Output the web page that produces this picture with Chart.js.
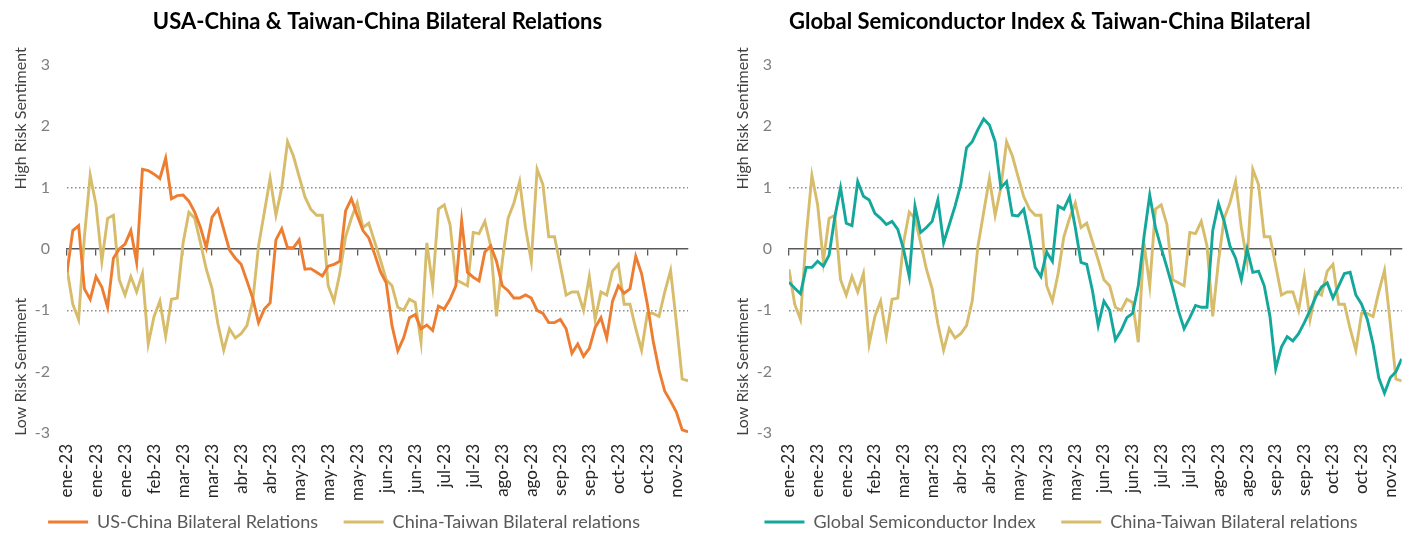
<!DOCTYPE html>
<html><head><meta charset="utf-8">
<script src="https://cdn.jsdelivr.net/npm/chart.js@4.4.0/dist/chart.umd.min.js"></script>
<style>
html,body{margin:0;padding:0;background:#fff;}
#wrap{position:relative;width:1422px;height:536px;overflow:hidden;}
.c{position:absolute;top:0;width:711px;height:536px;}
#l{left:0;} #r{left:711px;}
canvas{display:block;}
</style></head><body>
<div id="wrap"><div class="c" id="l"><canvas id="c1" width="711" height="536"></canvas></div><div class="c" id="r"><canvas id="c2" width="711" height="536"></canvas></div></div>
<script>
const tickLabels = ['ene-23','ene-23','ene-23','feb-23','mar-23','mar-23','abr-23','abr-23','may-23','may-23','may-23','jun-23','jun-23','jul-23','jul-23','ago-23','ago-23','sep-23','sep-23','oct-23','oct-23','nov-23'];
// one value every 0.2 of a tick interval
const step = 0.2;
const usChina = [
 -0.38, 0.30, 0.38, -0.65, -0.82, -0.45, -0.62, -0.95, -0.15, 0.00,
 0.08, 0.30, -0.22, 1.30, 1.28, 1.22, 1.15, 1.48, 0.82, 0.87,
 0.88, 0.78, 0.60, 0.35, 0.02, 0.52, 0.65, 0.32, -0.02, -0.15,
 -0.25, -0.52, -0.80, -1.20, -0.98, -0.88, 0.15, 0.33, 0.02, 0.02,
 0.15, -0.33, -0.32, -0.38, -0.44, -0.28, -0.25, -0.20, 0.62, 0.82,
 0.55, 0.30, 0.18, -0.08, -0.37, -0.55, -1.25, -1.66, -1.45, -1.12,
 -1.07, -1.30, -1.24, -1.33, -0.93, -0.98, -0.82, -0.60, 0.46, -0.38,
 -0.46, -0.52, -0.05, 0.05, -0.20, -0.60, -0.68, -0.80, -0.80, -0.75,
 -0.80, -1.00, -1.05, -1.20, -1.20, -1.15, -1.30, -1.70, -1.55, -1.75,
 -1.62, -1.28, -1.12, -1.45, -0.85, -0.60, -0.72, -0.65, -0.12, -0.40,
 -0.90, -1.50, -1.97, -2.32, -2.48, -2.66, -2.95, -2.98
];
const chinaTaiwan = [
 -0.33, -0.90, -1.15, 0.20, 1.20, 0.72, -0.20, 0.50, 0.55, -0.50,
 -0.75, -0.45, -0.70, -0.40, -1.55, -1.10, -0.85, -1.42, -0.82, -0.80,
 0.10, 0.60, 0.50, 0.10, -0.33, -0.65, -1.22, -1.65, -1.30, -1.45,
 -1.38, -1.25, -0.85, 0.05, 0.60, 1.15, 0.55, 1.00, 1.75, 1.52,
 1.18, 0.85, 0.65, 0.55, 0.55, -0.60, -0.85, -0.40, 0.20, 0.50,
 0.75, 0.35, 0.42, 0.12, -0.18, -0.50, -0.60, -0.95, -1.00, -0.82,
 -0.87, -1.52, 0.10, -0.60, 0.65, 0.72, 0.40, -0.50, -0.55, -0.60,
 0.27, 0.25, 0.45, 0.05, -1.10, -0.20, 0.50, 0.75, 1.10, 0.35,
 -0.20, 1.30, 1.05, 0.20, 0.20, -0.27, -0.75, -0.70, -0.70, -1.00,
 -0.45, -1.15, -0.70, -0.75, -0.36, -0.25, -0.90, -0.90, -1.30, -1.65,
 -1.05, -1.05, -1.10, -0.70, -0.35, -1.20, -2.12, -2.15
];
const semiIndex = [
 -0.54, -0.64, -0.73, -0.30, -0.30, -0.20, -0.28, -0.10, 0.52, 1.00,
 0.42, 0.38, 1.10, 0.86, 0.80, 0.58, 0.50, 0.40, 0.45, 0.32,
 0.00, -0.45, 0.70, 0.27, 0.35, 0.45, 0.80, 0.10, 0.40, 0.70,
 1.05, 1.65, 1.75, 1.95, 2.12, 2.02, 1.75, 1.00, 1.10, 0.55,
 0.54, 0.65, 0.20, -0.30, -0.45, -0.05, -0.20, 0.70, 0.65, 0.85,
 0.35, -0.22, -0.25, -0.68, -1.25, -0.85, -1.00, -1.48, -1.33, -1.12,
 -1.05, -0.60, 0.20, 0.88, 0.35, 0.02, -0.30, -0.63, -1.00, -1.30,
 -1.12, -0.92, -0.95, -0.95, 0.30, 0.74, 0.45, 0.05, -0.15, -0.50,
 0.00, -0.38, -0.36, -0.60, -1.10, -1.95, -1.60, -1.43, -1.50, -1.38,
 -1.20, -1.00, -0.78, -0.62, -0.55, -0.80, -0.60, -0.40, -0.38, -0.75,
 -0.90, -1.15, -1.55, -2.10, -2.35, -2.10, -2.00, -1.79
];
const yTitles = ['High Risk Sentiment', 'Low Risk Sentiment'];
const yTitleCenters = [2.13, -1.92];

const COLORS = { us: '#ED7D31', tw: '#D7BC6C', semi: '#14A89C' };
const FONT = 'Lato, "Open Sans", sans-serif';
const xMax = (usChina.length - 1) * step;

function toPoints(arr){ return arr.map((v, i) => ({ x: i * step, y: v })); }
function buildTicks(scale){ scale.ticks = tickLabels.map((_, i) => ({ value: i })); }

const yTitlePlugin = {
  id: 'yTitles',
  afterDraw(chart) {
    const { ctx, chartArea, scales } = chart;
    const y = scales.y;
    const x = chartArea.left - 46;
    ctx.save();
    ctx.font = '16px ' + FONT;
    ctx.fillStyle = '#404040';
    ctx.textAlign = 'center';
    ctx.textBaseline = 'middle';
    yTitles.forEach((t, i) => {
      ctx.save();
      ctx.translate(x, y.getPixelForValue(yTitleCenters[i]));
      ctx.rotate(-Math.PI / 2);
      ctx.fillText(t, 0, 0);
      ctx.restore();
    });
    ctx.restore();
  }
};

function legendItems(chart) {
  const items = Chart.defaults.plugins.legend.labels.generateLabels(chart);
  items.forEach((it, i) => { if (i < items.length - 1) it.text += '\u2003'; });
  return items;
}

function makeChart(id, title, titleAlign, sets, yWidth, padRight) {
  return new Chart(document.getElementById(id), {
    type: 'line',
    data: {
      datasets: sets.map(s => ({
        label: s.label, data: toPoints(s.data),
        borderColor: s.color, backgroundColor: s.color,
        borderWidth: 2.9, pointRadius: 0, tension: 0, fill: false
      }))
    },
    plugins: [yTitlePlugin],
    options: {
      responsive: false, animation: false, devicePixelRatio: 1,
      layout: { padding: { left: 0, right: padRight, top: 0, bottom: -5 } },
      plugins: {
        tooltip: { enabled: false },
        title: {
          display: true, text: title, align: titleAlign, fullSize: false,
          color: '#000', font: { family: FONT, size: 22, weight: 'bold' },
          padding: { top: 9, bottom: 29.6 }
        },
        legend: {
          position: 'bottom',
          labels: {
            usePointStyle: true, pointStyle: 'line', pointStyleWidth: 40,
            color: '#595959', font: { family: FONT, size: 18 }, padding: 12,
            generateLabels: legendItems
          }
        }
      },
      scales: {
        x: {
          type: 'linear', min: 0, max: xMax, position: 'bottom',
          afterBuildTicks: buildTicks,
          afterFit: s => { s.height = 68; },
          grid: { display: false, drawTicks: false },
          border: { display: false },
          ticks: {
            autoSkip: false, minRotation: 90, maxRotation: 90, padding: 11,
            color: '#262626', font: { family: FONT, size: 17 },
            callback: v => tickLabels[v]
          }
        },
        x0: {
          type: 'linear', min: 0, max: xMax, position: { y: 0 },
          afterBuildTicks: buildTicks,
          grid: { display: true, drawOnChartArea: false, drawTicks: true, tickLength: 6, color: '#595959', lineWidth: 1.3 },
          border: { display: true, color: '#595959', width: 1.5 },
          ticks: { display: false }
        },
        y: {
          min: -3, max: 3,
          afterFit: s => { s.width = yWidth; },
          ticks: { stepSize: 1, padding: 17, color: '#7f7f7f', font: { family: FONT, size: 16 } },
          grid: {
            drawTicks: false, lineWidth: 1.4,
            color: c => (c.tick && Math.abs(c.tick.value) === 1) ? '#8c8c8c' : 'rgba(0,0,0,0)'
          },
          border: { display: false, dash: [1.5, 2.5] }
        }
      }
    }
  });
}

makeChart('c1', 'USA-China & Taiwan-China Bilateral Relations', 'center', [
  { label: 'US-China Bilateral Relations', data: usChina, color: COLORS.us },
  { label: 'China-Taiwan Bilateral relations', data: chinaTaiwan, color: COLORS.tw }
], 67, 23);

makeChart('c2', 'Global Semiconductor Index & Taiwan-China Bilateral', 'start', [
  { label: 'Global Semiconductor Index', data: semiIndex, color: COLORS.semi },
  { label: 'China-Taiwan Bilateral relations', data: chinaTaiwan, color: COLORS.tw }
], 78, 11);
</script>
</body></html>
